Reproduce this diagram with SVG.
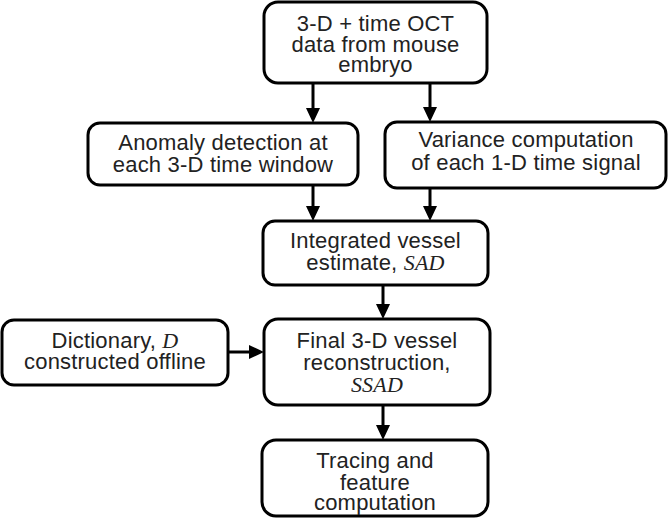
<svg xmlns="http://www.w3.org/2000/svg" width="669" height="522" viewBox="0 0 669 522">
<style>
.box{fill:#fff;stroke:#000;stroke-width:3}
.t{font-family:"Liberation Sans",Arial,sans-serif;font-size:22px;letter-spacing:0.2px;fill:#222;text-anchor:middle}
.m{font-family:"Liberation Serif","DejaVu Serif",serif;font-style:italic}
.c{stroke:#000;stroke-width:3;fill:none}
</style>
<defs>
<marker id="ah" markerUnits="userSpaceOnUse" markerWidth="16" markerHeight="14" refX="9" refY="7" orient="auto">
<path d="M0,0 L15,7 L0,14 Z" fill="#000"/>
</marker>
</defs>
<rect width="669" height="522" fill="#fff"/>
<g id="connectors">
<line class="c" x1="313" y1="83" x2="313" y2="117" marker-end="url(#ah)"/>
<line class="c" x1="430" y1="83" x2="430" y2="116" marker-end="url(#ah)"/>
<line class="c" x1="313" y1="185" x2="313" y2="215" marker-end="url(#ah)"/>
<line class="c" x1="430" y1="188" x2="430" y2="215" marker-end="url(#ah)"/>
<line class="c" x1="383" y1="285" x2="383" y2="313" marker-end="url(#ah)"/>
<line class="c" x1="228" y1="352" x2="258" y2="352" marker-end="url(#ah)"/>
<line class="c" x1="383" y1="405" x2="383" y2="434" marker-end="url(#ah)"/>
</g>
<g id="n1">
<rect class="box" x="264" y="2" width="223" height="81" rx="14"/>
<text class="t" x="375.5" y="31">3-D + time OCT</text>
<text class="t" x="375.5" y="52">data from mouse</text>
<text class="t" x="375.5" y="72">embryo</text>
</g>
<g id="n2">
<rect class="box" x="88" y="123" width="270" height="62" rx="12"/>
<text class="t" x="223" y="150">Anomaly detection at</text>
<text class="t" x="223" y="172">each 3-D time window</text>
</g>
<g id="n3">
<rect class="box" x="385" y="122" width="281" height="66" rx="12"/>
<text class="t" x="526" y="147">Variance computation</text>
<text class="t" x="526" y="170">of each 1-D time signal</text>
</g>
<g id="n4">
<rect class="box" x="263" y="221" width="225" height="64" rx="12"/>
<text class="t" x="375.5" y="248">Integrated vessel</text>
<text class="t" x="375.5" y="270">estimate, <tspan class="m">SAD</tspan></text>
</g>
<g id="n5">
<rect class="box" x="2" y="320" width="226" height="65" rx="12"/>
<text class="t" x="115" y="348">Dictionary, <tspan class="m">D</tspan></text>
<text class="t" x="115" y="369">constructed offline</text>
</g>
<g id="n6">
<rect class="box" x="264" y="319" width="226" height="86" rx="14"/>
<text class="t" x="377" y="348">Final 3-D vessel</text>
<text class="t" x="377" y="370">reconstruction,</text>
<text class="t m" x="377" y="392">SSAD</text>
</g>
<g id="n7">
<rect class="box" x="262" y="440" width="226" height="76" rx="14"/>
<text class="t" x="375" y="468">Tracing and</text>
<text class="t" x="375" y="490">feature</text>
<text class="t" x="375" y="510">computation</text>
</g>
</svg>
